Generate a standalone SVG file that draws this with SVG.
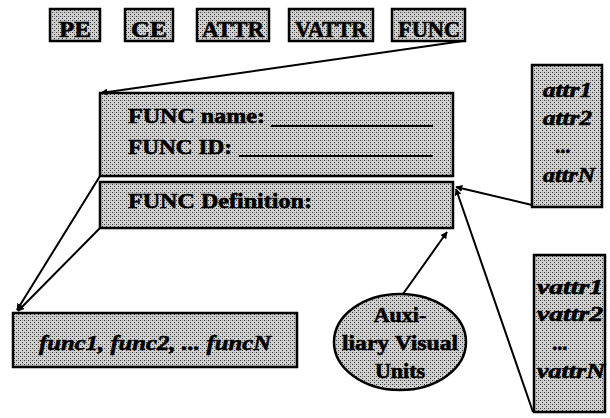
<svg xmlns="http://www.w3.org/2000/svg" width="610" height="418" viewBox="0 0 610 418">
  <defs>
    <!-- halftone grey fill used by every box -->
    <pattern id="halftone" width="4" height="4" patternUnits="userSpaceOnUse">
      <rect width="4" height="4" fill="#d0d0d0"/>
      <rect x="0" y="0" width="1" height="1" fill="#333"/>
      <rect x="2" y="2" width="1" height="1" fill="#333"/>
      <rect x="2" y="0" width="1" height="1" fill="#959595"/>
    </pattern>
    <marker id="arrow" viewBox="0 0 10 10" refX="9" refY="5" markerWidth="7" markerHeight="7" orient="auto" markerUnits="userSpaceOnUse">
      <path d="M0,0 L10,5 L0,10 z" fill="#000"/>
    </marker>
  </defs>
  <style>
    .box { fill: url(#halftone); stroke: #000; stroke-width: 2.5; }
    .lbl { font-family: "Liberation Serif", "Times New Roman", serif; font-weight: bold; fill: #000; stroke: #000; stroke-width: 0.6; }
    .it { font-style: italic; }
    .conn { stroke: #000; stroke-width: 2; fill: none; marker-end: url(#arrow); }
    .rule { stroke: #000; stroke-width: 2; }
  </style>

  <rect width="610" height="418" fill="#fff"/>

  <!-- element type palette -->
  <g id="pe">
    <rect class="box" x="50" y="9" width="50" height="32"/>
    <text class="lbl" x="75" y="37" font-size="24" text-anchor="middle" textLength="32" lengthAdjust="spacingAndGlyphs">PE</text>
  </g>
  <g id="ce">
    <rect class="box" x="125" y="9" width="48" height="32"/>
    <text class="lbl" x="149" y="37" font-size="24" text-anchor="middle" textLength="36" lengthAdjust="spacingAndGlyphs">CE</text>
  </g>
  <g id="attr">
    <rect class="box" x="197" y="9" width="72" height="32"/>
    <text class="lbl" x="233" y="37" font-size="24" text-anchor="middle" textLength="62" lengthAdjust="spacingAndGlyphs">ATTR</text>
  </g>
  <g id="vattr">
    <rect class="box" x="289" y="9" width="84" height="32"/>
    <text class="lbl" x="331" y="37" font-size="24" text-anchor="middle" textLength="72" lengthAdjust="spacingAndGlyphs">VATTR</text>
  </g>
  <g id="func">
    <rect class="box" x="392" y="9" width="73" height="32"/>
    <text class="lbl" x="429" y="37" font-size="24" text-anchor="middle" textLength="62" lengthAdjust="spacingAndGlyphs">FUNC</text>
  </g>

  <!-- FUNC header: name and ID -->
  <g id="func-header">
    <rect class="box" x="100" y="93" width="353" height="83"/>
    <text class="lbl" x="128" y="123" font-size="22" textLength="137" lengthAdjust="spacingAndGlyphs">FUNC name:</text>
    <line class="rule" x1="271" y1="126" x2="433" y2="126"/>
    <text class="lbl" x="128" y="154" font-size="22" textLength="104" lengthAdjust="spacingAndGlyphs">FUNC ID:</text>
    <line class="rule" x1="239" y1="156" x2="433" y2="156"/>
  </g>

  <!-- FUNC definition -->
  <g id="func-definition">
    <rect class="box" x="100" y="182" width="353" height="46"/>
    <text class="lbl" x="128" y="208" font-size="22" textLength="184" lengthAdjust="spacingAndGlyphs">FUNC Definition:</text>
  </g>

  <!-- attribute list -->
  <g id="attr-list">
    <rect class="box" x="532" y="65" width="70" height="142"/>
    <text class="lbl it" x="543" y="97" font-size="20" textLength="49" lengthAdjust="spacingAndGlyphs">attr1</text>
    <text class="lbl it" x="543" y="125" font-size="20" textLength="49" lengthAdjust="spacingAndGlyphs">attr2</text>
    <text class="lbl it" x="556" y="153" font-size="20">...</text>
    <text class="lbl it" x="543" y="182" font-size="20" textLength="52" lengthAdjust="spacingAndGlyphs">attrN</text>
  </g>

  <!-- visual attribute list -->
  <g id="vattr-list">
    <rect class="box" x="534" y="255" width="71" height="157"/>
    <text class="lbl it" x="537" y="294" font-size="20" textLength="66" lengthAdjust="spacingAndGlyphs">vattr1</text>
    <text class="lbl it" x="537" y="321" font-size="20" textLength="66" lengthAdjust="spacingAndGlyphs">vattr2</text>
    <text class="lbl it" x="553" y="350" font-size="20">...</text>
    <text class="lbl it" x="537" y="378" font-size="20" textLength="68" lengthAdjust="spacingAndGlyphs">vattrN</text>
  </g>

  <!-- function list -->
  <g id="func-list">
    <rect class="box" x="13" y="313" width="284" height="54"/>
    <text class="lbl it" x="155" y="350" font-size="22" text-anchor="middle" textLength="232" lengthAdjust="spacingAndGlyphs">func1, func2, ... funcN</text>
  </g>

  <!-- auxiliary visual units -->
  <g id="aux-units">
    <ellipse class="box" cx="400" cy="342" rx="66" ry="48"/>
    <text class="lbl" x="400" y="322" font-size="22" text-anchor="middle">Auxi-</text>
    <text class="lbl" x="400" y="350" font-size="22" text-anchor="middle" textLength="116" lengthAdjust="spacingAndGlyphs">liary Visual</text>
    <text class="lbl" x="400" y="378" font-size="22" text-anchor="middle">Units</text>
  </g>

  <!-- connectors -->
  <g id="connectors">
    <line class="conn" x1="463" y1="41" x2="101" y2="93"/>
    <line class="conn" x1="100" y1="176" x2="17" y2="310"/>
    <line class="conn" x1="100" y1="228" x2="18" y2="311"/>
    <line class="conn" x1="532" y1="205" x2="456" y2="187"/>
    <line class="conn" x1="533" y1="412" x2="456" y2="189"/>
    <line class="conn" x1="403" y1="294" x2="447" y2="232"/>
  </g>
</svg>
